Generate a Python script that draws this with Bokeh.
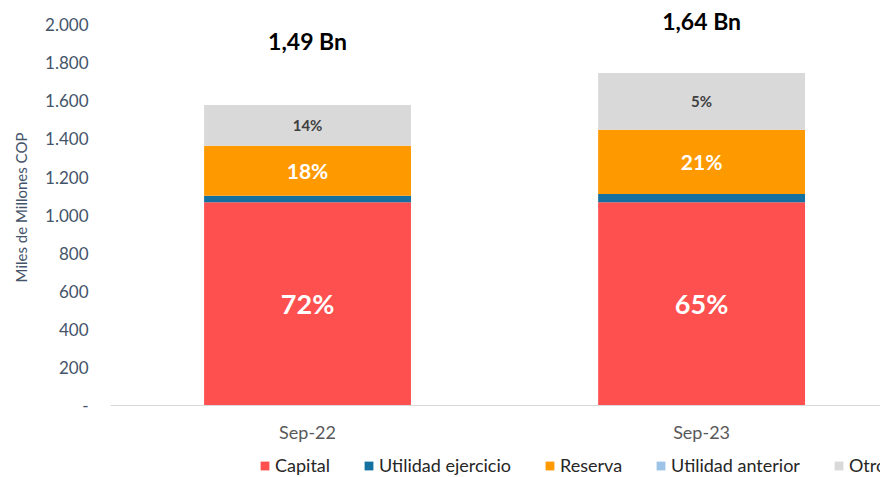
from bokeh.plotting import figure
from bokeh.models import ColumnDataSource, Range1d, FixedTicker, Legend, LegendItem
from bokeh.layouts import column
from bokeh.core.properties import value
from bokeh.embed import file_html
from bokeh.resources import INLINE

# ---- data ----
categories = ["Sep-22", "Sep-23"]
series = ["Capital", "Utilidad ejercicio", "Reserva", "Utilidad anterior", "Otros"]
capital = [1067, 1067]
utilidad_ejercicio = [35, 44]
reserva = [263, 338]
utilidad_anterior = [0, 0]
otros = [213, 297]
capital_pct = ["72%", "65%"]
reserva_pct = ["18%", "21%"]
otros_pct = ["14%", "5%"]
total_labels = ["1,49 Bn", "1,64 Bn"]
y_ticks = [0, 200, 400, 600, 800, 1000, 1200, 1400, 1600, 1800, 2000]
y_tick_labels = ["-", "200", "400", "600", "800", "1.000", "1.200", "1.400", "1.600", "1.800", "2.000"]

colors = ["#FF5050", "#13709F", "#FF9900", "#9DC3E6", "#D9D9D9"]
FONT = "Lato"

xs = list(range(len(categories)))
data = dict(x=xs, Capital=capital, **{"Utilidad ejercicio": utilidad_ejercicio},
            Reserva=reserva, **{"Utilidad anterior": utilidad_anterior}, Otros=otros)
src = ColumnDataSource(data)

p = figure(width=880, height=445, output_backend="svg", toolbar_location=None,
           x_range=Range1d(-0.5, 1.454), y_range=Range1d(0, 2080),
           min_border_left=110, min_border_top=9, min_border_right=0, min_border_bottom=40)
p.outline_line_color = None
p.xgrid.visible = False
p.ygrid.visible = False

renderers = p.vbar_stack(series, x="x", width=0.525, color=colors, line_color=None, source=src)

# segment label positions derived from the data
cap_mid = [c / 2 for c in capital]
res_mid = [c + u + r / 2 for c, u, r in zip(capital, utilidad_ejercicio, reserva)]
otr_mid = [c + u + r + a + o / 2 for c, u, r, a, o in zip(capital, utilidad_ejercicio, reserva, utilidad_anterior, otros)]

p.text(x=xs, y=cap_mid, text=capital_pct, text_color="white", text_font=value(FONT),
       text_font_size="27px", text_font_style="bold", text_align="center", text_baseline="middle")
p.text(x=xs, y=res_mid, text=reserva_pct, text_color="white", text_font=value(FONT),
       text_font_size="21px", text_font_style="bold", text_align="center", text_baseline="middle")
p.text(x=xs, y=otr_mid, text=otros_pct, text_color="#404040", text_font=value(FONT),
       text_font_size="15px", text_font_style="bold", text_align="center", text_baseline="middle")

label_y = [1915, 2020]
p.text(x=xs, y=label_y, text=total_labels, text_color="black", text_font=value(FONT),
       text_font_size="23px", text_font_style="bold", text_align="center", text_baseline="middle")

# axes
p.xaxis.ticker = FixedTicker(ticks=xs)
p.xaxis.major_label_overrides = {i: c for i, c in zip(xs, categories)}
p.xaxis.axis_line_color = "#D9D9D9"
p.xaxis.axis_line_width = 1
p.xaxis.major_tick_line_color = None
p.xaxis.minor_tick_line_color = None
p.xaxis.major_tick_out = 0
p.xaxis.major_label_text_font = FONT
p.xaxis.major_label_text_font_size = "18px"
p.xaxis.major_label_text_color = "#595959"
p.xaxis.major_label_standoff = 15

p.yaxis.ticker = FixedTicker(ticks=y_ticks)
p.yaxis.major_label_overrides = {t: l for t, l in zip(y_ticks, y_tick_labels)}
p.yaxis.axis_line_color = None
p.yaxis.major_tick_line_color = None
p.yaxis.minor_tick_line_color = None
p.yaxis.major_label_text_font = FONT
p.yaxis.major_label_text_font_size = "17px"
p.yaxis.major_label_text_color = "#44546A"
p.yaxis.major_label_standoff = 16
p.yaxis.axis_label = "Miles de Millones COP"
p.yaxis.axis_label_text_font = FONT
p.yaxis.axis_label_text_font_size = "15px"
p.yaxis.axis_label_text_font_style = "normal"
p.yaxis.axis_label_text_color = "#44546A"
p.yaxis.axis_label_standoff = 12

# ---- legend strip below the chart ----
lg = figure(width=880, height=32, output_backend="svg", toolbar_location=None,
            x_range=Range1d(0, 880), y_range=Range1d(0, 32),
            min_border_left=0, min_border_right=0, min_border_top=0, min_border_bottom=0)
lg.axis.visible = False
lg.xgrid.visible = False
lg.ygrid.visible = False
lg.outline_line_color = None
swatches = [lg.quad(left=[-20], right=[-10], bottom=[-20], top=[-10], color=c, line_color=None)
            for c in colors]
legend = Legend(items=[LegendItem(label=s, renderers=[r]) for s, r in zip(series, swatches)],
                orientation="horizontal", location=(149, 1), border_line_color=None,
                background_fill_alpha=0,
                label_text_font=FONT, label_text_font_size="18px",
                label_text_color="#262626", glyph_width=11, glyph_height=11,
                label_standoff=5, spacing=33, padding=0, margin=0, label_height=18)
lg.add_layout(legend, "center")

layout = column(p, lg, spacing=0)
open("out.html", "w").write(file_html(layout, INLINE))
